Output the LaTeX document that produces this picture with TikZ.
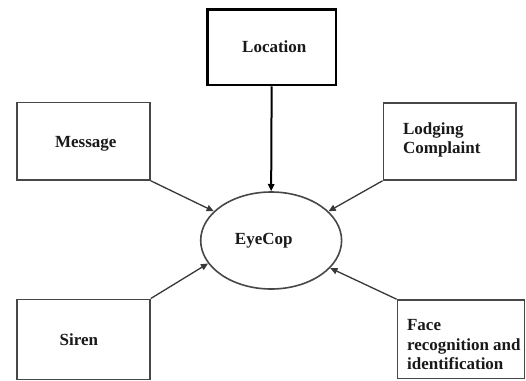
\documentclass[tikz,border=0pt]{standalone}
\usepackage{fontspec}
\setmainfont{Liberation Serif}
\usetikzlibrary{arrows.meta,shapes.geometric}
\begin{document}
\begin{tikzpicture}[x=0.5pt,y=-0.5pt,
  box/.style={draw=black!72, line width=0.8pt, rectangle, inner sep=0pt},
  lbl/.style={font=\bfseries\fontsize{8.5}{9.7}\selectfont, text=black!90, inner sep=0pt, align=left},
  arr/.style={draw=black!78, line width=0.65pt, -{Triangle[length=3.6pt,width=3.2pt]}}]
\useasboundingbox[fill=white] (0,0) rectangle (526,381);
% boxes
\node[box, draw=black, line width=1.25pt, minimum width=64.35pt, minimum height=37.85pt] (loc) at (271.65,47.15) {};
\node[box, minimum width=66.65pt, minimum height=38.85pt] (msg) at (83.35,141.15) {};
\node[box, minimum width=66.35pt, minimum height=38.65pt] (lodg) at (449.65,141.35) {};
\node[box, minimum width=66.65pt, minimum height=40pt] (siren) at (83.35,339.3) {};
\node[box, minimum width=63.45pt, minimum height=39.15pt] (face) at (460.85,339.15) {};
\node[ellipse, draw=black!72, line width=0.8pt, inner sep=0pt, minimum width=70.45pt, minimum height=48.5pt] (eye) at (271.15,240.5) {};
% texts
\node[lbl] (loct) at (274.3,47) {Location};
\node[lbl] (msgt) at (85.8,143.5) {Message};
\node[lbl, anchor=west] (lodgt) at (402.7,140) {Lodging\\Complaint};
\node[lbl] (sirent) at (78.8,340) {Siren};
\node[lbl, anchor=west] (facet) at (406.7,344.7) {Face\\recognition and\\identification};
\node[lbl] (eyet) at (263.8,240.5) {EyeCop};
% connectors
\draw[arr, draw=black, line width=1pt] (loc.south) -- (eye.north);
\draw[arr] (msg.south east) -- (eye.153.4);
\draw[arr] (lodg.south west) -- (eye.27.4);
\draw[arr] (siren.north east) -- (eye.200.3);
\draw[arr] (face.north west) -- (eye.335);
\end{tikzpicture}
\end{document}
